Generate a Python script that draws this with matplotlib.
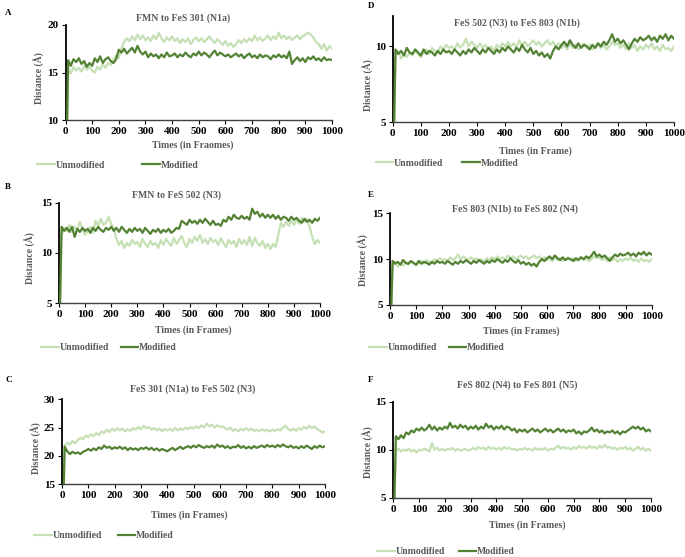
import numpy as np
import matplotlib
matplotlib.use("Agg")
import matplotlib.pyplot as plt
from matplotlib.lines import Line2D

plt.rcParams['font.family'] = ['Liberation Serif', 'DejaVu Serif']
plt.rcParams['font.weight'] = 'bold'

frames = np.arange(0, 1001, 10)

a_mod = [0,
 16.3, 15.7, 16.4, 16.1, 16.5, 15.9, 16.2, 15.6, 16.0, 15.7,
 16.5, 16.1, 16.7, 16.0, 16.4, 16.6, 16.2, 16.0, 16.4, 17.4,
 17.1, 17.5, 17.0, 17.3, 17.6, 17.1, 17.8, 17.2, 16.9, 17.2,
 16.6, 17.0, 16.7, 16.9, 16.5, 16.9, 16.6, 17.1, 16.7, 16.8,
 17.0, 16.6, 16.9, 16.7, 17.1, 16.8, 16.6, 17.0, 16.8, 17.2,
 16.8, 17.1, 16.9, 16.6, 17.0, 17.3, 16.8, 17.1, 16.9, 16.7,
 16.9, 16.6, 16.8, 17.0, 16.7, 16.9, 16.5, 16.8, 17.0, 16.6,
 16.8, 16.5, 16.9, 16.6, 16.8, 16.7, 16.4, 16.8, 16.6, 16.9,
 16.6, 16.8, 16.5, 17.2, 15.9, 16.3, 16.6, 16.2, 16.5, 16.1,
 16.6, 16.4, 16.7, 16.3, 16.5, 16.2, 16.6, 16.3, 16.4, 16.3]
a_unmod = [0,
 15.4, 14.9, 15.6, 15.2, 15.5, 15.1, 15.7, 15.3, 15.6, 15.2,
 15.0, 15.6, 15.3, 15.9, 15.5, 16.0, 15.8, 16.4, 16.8, 16.5,
 17.5, 18.2, 18.6, 18.3, 18.8, 18.4, 19.0, 18.5, 18.9, 18.4,
 18.7, 18.3, 18.9, 18.5, 19.2, 18.6, 18.2, 18.7, 18.4, 18.8,
 18.3, 18.6, 18.1, 18.5, 18.2, 18.6, 18.0, 18.4, 18.7, 18.3,
 18.6, 18.2, 18.5, 18.8, 18.4, 18.1, 18.5, 18.2, 17.9, 18.3,
 17.8, 18.1, 17.7, 18.0, 18.4, 18.1, 18.5, 18.2, 18.6, 18.3,
 18.9, 18.4, 18.7, 18.3, 18.6, 18.9, 18.4, 18.8, 18.5, 19.2,
 18.6, 18.9, 18.5, 18.8, 18.4, 18.7, 18.9, 18.5, 18.8, 19.0,
 19.2, 19.0, 18.7, 18.2, 18.0, 17.5, 18.0, 17.3, 17.8, 17.5]

b_mod = [0,
 12.6, 12.2, 12.5, 12.1, 12.6, 11.6, 12.4, 12.1, 12.5, 12.2,
 12.4, 12.0, 12.5, 12.2, 12.6, 12.3, 12.1, 12.5, 12.3, 12.6,
 12.2, 12.5, 12.1, 12.6, 12.3, 12.0, 12.4, 12.1, 12.5, 12.2,
 12.4, 12.0, 12.5, 12.2, 11.9, 12.3, 12.1, 12.4, 12.0, 12.3,
 12.1, 12.4, 12.0, 12.2, 12.5, 12.4, 13.2, 13.0, 12.8, 13.3,
 13.0, 13.2, 12.9, 13.3, 13.0, 13.4, 13.1, 12.8, 13.2, 12.8,
 12.9, 12.7, 13.3, 13.1, 13.6, 13.3, 13.8, 13.5, 13.4, 13.7,
 13.4, 13.6, 13.3, 14.4, 13.9, 14.1, 13.6, 13.9, 13.5, 13.8,
 13.5, 13.8, 13.4, 13.7, 13.3, 13.6, 13.5, 13.2, 13.6, 13.3,
 13.5, 13.2, 13.0, 13.4, 13.1, 13.3, 13.0, 13.4, 13.2, 13.5]
b_unmod = [0,
 11.8, 12.5, 12.2, 12.8, 12.1, 12.6, 12.3, 13.1, 12.4, 11.8,
 12.2, 12.6, 12.0, 13.2, 12.7, 13.4, 12.8, 13.0, 13.6, 12.9,
 12.4, 11.4, 10.8, 11.2, 10.5, 11.0, 10.7, 11.3, 10.9, 11.1,
 10.6, 11.4, 10.9, 10.6, 11.2, 10.8, 11.0, 10.5, 11.3, 10.8,
 11.4, 11.0, 10.7, 11.5, 10.9, 11.3, 11.7, 11.0, 10.6, 11.4,
 11.0, 11.6, 11.2, 11.8, 11.0, 11.4, 10.9, 11.5, 11.1, 11.3,
 10.8, 11.5, 11.0, 10.6, 11.3, 10.9, 11.2, 10.6, 11.4, 10.9,
 11.3, 10.8, 11.6, 10.7, 11.5, 11.0, 10.7, 11.2, 10.5, 10.9,
 10.4, 10.9, 10.6, 11.8, 13.0, 12.6, 13.1, 12.7, 13.2, 12.8,
 13.3, 12.9, 13.5, 13.1, 13.4, 12.6, 11.6, 10.9, 11.3, 11.0]

c_unmod = [0,
 21.8, 22.3, 22.0, 22.6, 22.2, 22.8, 23.2, 22.9, 23.6, 23.3,
 23.8, 23.5, 24.0, 23.7, 24.3, 24.0, 24.6, 24.2, 24.8, 24.4,
 24.9, 24.5, 24.8, 24.3, 24.7, 24.4, 24.9, 24.6, 25.1, 24.7,
 25.3, 24.9, 25.1, 24.6, 24.9, 24.5, 24.8, 24.4, 24.7, 24.5,
 24.8, 24.4, 24.9, 24.5, 24.8, 24.6, 25.0, 24.7, 25.1, 24.8,
 25.2, 24.9, 25.4, 25.0, 25.7, 25.2, 25.5, 25.0, 25.4, 25.1,
 25.2, 24.9, 24.6, 25.0, 24.4, 24.7, 24.3, 24.8, 24.5, 24.9,
 24.5, 24.8, 24.4, 24.6, 24.3, 24.7, 24.4, 24.6, 24.3, 24.6,
 24.4, 24.7, 24.5, 25.0, 25.3, 24.7, 24.5, 24.8, 24.4, 24.9,
 24.6, 25.1, 24.8, 25.3, 24.9, 25.2, 24.7, 24.5, 24.1, 24.3]
c_mod = [0,
 21.6, 20.8, 20.3, 20.7, 20.4, 20.6, 20.3, 20.7, 20.9, 21.2,
 20.9, 21.3, 21.0, 21.5, 21.2, 21.8, 21.4, 21.6, 21.2, 21.5,
 21.3, 21.6, 21.2, 21.5, 21.0, 21.4, 21.1, 21.3, 21.0, 21.4,
 21.2, 21.5, 21.1, 21.4, 21.0, 21.3, 20.9, 21.2, 21.0, 20.8,
 21.1, 21.4, 21.0, 21.3, 21.6, 21.2, 21.5, 21.7, 21.4, 21.8,
 21.5, 21.9, 21.6, 21.4, 21.7, 21.5, 21.8, 21.4, 22.0, 21.6,
 21.8, 21.4, 21.7, 21.3, 21.6, 21.5, 21.9, 21.4, 21.7, 21.3,
 21.6, 21.3, 21.7, 21.4, 21.6, 21.8, 21.5, 21.9, 21.6, 21.8,
 21.5, 21.9, 21.6, 22.0, 21.7, 21.5, 21.8, 21.4, 21.6, 21.3,
 21.7, 21.4, 21.8, 21.5, 21.2, 21.7, 21.4, 21.8, 21.5, 21.7]

d_mod = [0,
 9.8, 9.5, 9.7, 9.4, 9.9, 9.6, 9.5, 9.8, 9.6, 9.4,
 9.8, 9.5, 9.7, 9.6, 9.4, 9.7, 9.5, 9.8, 9.6, 9.7,
 9.5, 9.8, 9.6, 9.4, 9.7, 9.5, 9.8, 9.6, 9.9, 9.7,
 9.5, 9.8, 9.6, 9.9, 9.7, 9.5, 9.8, 9.6, 9.9, 9.7,
 10.0, 9.8, 9.6, 9.9, 9.7, 10.1, 9.8, 9.6, 9.9, 9.5,
 9.7, 9.4, 9.6, 9.3, 9.5, 9.2, 9.7, 10.0, 9.8, 10.1,
 10.3, 10.0, 10.4, 10.1, 9.9, 10.2, 9.9, 10.1, 10.0, 9.8,
 10.1, 9.9, 10.2, 10.0, 10.3, 10.1, 10.4, 10.8, 10.3, 10.5,
 10.2, 10.4, 10.1, 9.8, 10.2, 10.5, 10.3, 10.6, 10.4, 10.5,
 10.7, 10.4, 10.6, 10.3, 10.7, 10.5, 10.8, 10.4, 10.7, 10.5]
d_unmod = [0,
 9.4, 9.7, 9.2, 9.5, 9.3, 9.6, 9.4, 9.7, 9.5, 9.3,
 9.6, 9.8, 9.5, 9.9, 9.7, 9.6, 10.0, 9.8, 10.1, 9.9,
 10.0, 9.8, 10.2, 9.9, 10.1, 10.5, 10.0, 10.3, 10.1, 9.9,
 10.2, 9.9, 10.1, 9.8, 10.0, 9.7, 10.1, 9.9, 10.2, 10.0,
 10.3, 10.0, 10.2, 9.9, 10.4, 10.1, 10.3, 10.0, 10.2, 10.4,
 10.1, 10.3, 10.0, 10.2, 10.4, 10.1, 10.3, 10.0, 10.2, 9.9,
 10.1, 9.8, 10.2, 9.9, 10.1, 9.8, 10.0, 10.2, 9.9, 10.1,
 9.8, 10.0, 10.2, 9.9, 10.1, 9.8, 10.0, 10.3, 10.1, 10.2,
 9.9, 10.1, 9.8, 10.2, 9.9, 10.1, 9.7, 10.0, 9.8, 10.1,
 9.9, 10.2, 9.8, 10.0, 9.7, 10.1, 9.8, 9.9, 9.7, 10.0]

e_mod = list(d_mod)
e_unmod = list(d_unmod)

f_mod = [0,
 11.4, 11.1, 11.5, 11.2, 11.8, 11.6, 12.0, 11.8, 12.2, 12.0,
 12.3, 12.0, 12.2, 12.6, 12.1, 12.4, 12.0, 12.3, 12.1, 12.4,
 12.2, 12.8, 12.3, 12.5, 12.2, 12.6, 12.3, 12.5, 12.1, 12.4,
 12.2, 12.5, 12.1, 12.4, 12.2, 12.7, 12.3, 12.5, 12.1, 12.4,
 12.2, 12.5, 12.1, 12.4, 12.3, 12.0, 12.2, 11.8, 12.1, 11.9,
 12.1, 11.8, 12.0, 12.2, 11.9, 12.1, 11.8, 12.0, 12.2, 11.9,
 12.1, 11.8, 12.0, 12.2, 11.9, 12.1, 11.8, 12.0, 11.9, 12.1,
 11.7, 11.9, 11.6, 11.9, 11.8, 12.0, 12.3, 11.9, 12.1, 11.8,
 12.0, 11.7, 11.9, 11.8, 12.0, 11.7, 11.9, 11.6, 11.9, 11.8,
 12.0, 12.2, 12.4, 12.2, 12.4, 12.1, 12.3, 11.9, 12.1, 11.9]
f_unmod = [0,
 9.9, 10.1, 9.8, 10.0, 9.9, 10.1, 9.8, 10.0, 9.7, 10.0,
 9.9, 10.1, 10.0, 9.8, 10.7, 10.0, 10.2, 9.9, 10.1, 9.9,
 10.1, 10.0, 10.2, 9.9, 10.1, 9.9, 10.0, 10.1, 9.9, 10.0,
 10.2, 10.0, 10.3, 10.1, 10.2, 10.0, 10.3, 10.1, 10.2, 10.0,
 10.2, 10.0, 10.3, 10.1, 10.2, 10.0, 10.1, 9.9, 10.1, 10.0,
 10.2, 10.0, 10.1, 9.9, 10.2, 10.0, 10.1, 10.0, 10.2, 9.9,
 10.1, 10.0, 10.2, 10.4, 10.1, 10.3, 10.1, 10.2, 10.0, 10.3,
 10.1, 10.4, 10.2, 10.3, 10.1, 10.4, 10.2, 10.3, 10.1, 10.4,
 10.2, 10.5, 10.2, 10.3, 10.1, 10.2, 10.0, 10.2, 10.1, 10.3,
 10.0, 10.2, 9.9, 10.1, 10.3, 10.0, 10.2, 9.9, 10.1, 9.9]

titles = ["FMN to FeS 301 (N1a)", "FMN to FeS 502 (N3)", "FeS 301 (N1a) to FeS 502 (N3)",
          "FeS 502 (N3) to FeS 803 (N1b)", "FeS 803 (N1b) to FeS 802 (N4)",
          "FeS 802 (N4) to FeS 801 (N5)"]
xlabels = ["Times (in Fraomes)", "Times (in Frames)", "Times (in Frames)",
           "Times (in Frame)", "Times (in Frames)", "Times (in Frames)"]
ylabel = "Distance (Å)"
letters = ["A", "B", "C", "D", "E", "F"]
series_labels = ["Unmodified", "Modified"]
yranges = [(10, 20), (5, 15), (15, 30), (5, 12), (5, 15), (5, 15)]
yticks_list = [[10, 15, 20], [5, 10, 15], [15, 20, 25, 30], [5, 10], [5, 10, 15], [5, 10, 15]]
xticks = list(range(0, 1001, 100))

unmod_all = [a_unmod, b_unmod, c_unmod, d_unmod, e_unmod, f_unmod]
mod_all = [a_mod, b_mod, c_mod, d_mod, e_mod, f_mod]

LIGHT = "#c5e0b4"
DARK = "#548235"
GRAY = "#595959"

W, H = 685, 557
fig = plt.figure(figsize=(W / 100, H / 100), dpi=100)

# layout in pixels: (x0, x1, ytop, ybottom)
boxes = [(65.5, 332, 25, 120), (59, 320, 202.7, 303.3), (62, 325, 399.3, 484),
         (392.7, 674, 16, 122.3), (390, 651.7, 213.3, 305), (393.3, 651, 401.7, 497.7)]
title_pos = [(183, 18), (177, 195.5), (193, 389), (517, 23), (515, 209), (517, 385.5)]
xlabel_pos = [(193, 145), (193, 330), (189, 515), (535, 151), (521, 331), (527, 525.5)]
ylabel_pos = [(39, 78), (30, 258), (36, 448), (368, 85), (363, 260), (368, 452)]
letter_pos = [(5, 13), (5, 187), (5, 380), (368, 6), (368, 195), (368, 380)]
legend_pos = [(118, 165), (109, 348), (104, 536), (447, 163), (437, 348), (446, 552)]
col_space = [3.8, 1.2, 1.6, 1.9, 1.2, 1.4]

def fx(px):
    return px / W

def fy(py):
    return 1 - py / H

fs = 7
tfs = 8
for i in range(6):
    x0, x1, yt, yb = boxes[i]
    ax = fig.add_axes([fx(x0), fy(yb), (x1 - x0) / W, (yb - yt) / H])
    ax.plot(frames, unmod_all[i], color=LIGHT, lw=1.6, label=series_labels[0], zorder=2)
    ax.plot(frames, mod_all[i], color=DARK, lw=1.6, label=series_labels[1], zorder=3)
    ax.set_xlim(0, 1000)
    ax.set_ylim(*yranges[i])
    ax.set_xticks(xticks)
    ax.set_yticks(yticks_list[i])
    ax.tick_params(axis='both', labelsize=tfs, length=3, width=0.8, pad=2, colors='black')
    for lab in ax.get_xticklabels() + ax.get_yticklabels():
        lab.set_fontweight('bold')
    for s in ['top', 'right']:
        ax.spines[s].set_visible(False)
    ax.spines['left'].set_linewidth(1.3)
    ax.spines['bottom'].set_linewidth(1.0)
    ax.spines['left'].set_color('black')
    ax.spines['bottom'].set_color('#404040')
    ax.patch.set_alpha(0)

    fig.text(fx(title_pos[i][0]), fy(title_pos[i][1]), titles[i], ha='center', va='center',
             fontsize=fs, fontweight='bold', color=GRAY)
    fig.text(fx(xlabel_pos[i][0]), fy(xlabel_pos[i][1]), xlabels[i], ha='center', va='center',
             fontsize=fs, fontweight='bold', color=GRAY)
    fig.text(fx(ylabel_pos[i][0]), fy(ylabel_pos[i][1]), ylabel, ha='center', va='center',
             rotation=90, fontsize=fs, fontweight='bold', color=GRAY)
    fig.text(fx(letter_pos[i][0]), fy(letter_pos[i][1]), letters[i], ha='left', va='center',
             fontsize=6.5, fontweight='bold', color='black')

    handles = [Line2D([], [], color=LIGHT, lw=1.6), Line2D([], [], color=DARK, lw=1.6)]
    leg = fig.legend(handles, series_labels, loc='center',
                     bbox_to_anchor=(fx(legend_pos[i][0]), fy(legend_pos[i][1])),
                     ncol=2, frameon=False, fontsize=fs, handlelength=1.8,
                     handletextpad=0.1, columnspacing=col_space[i], borderpad=0,
                     borderaxespad=0)
    for t in leg.get_texts():
        t.set_color(GRAY)
        t.set_fontweight('bold')

fig.savefig("out.png", dpi=100)
